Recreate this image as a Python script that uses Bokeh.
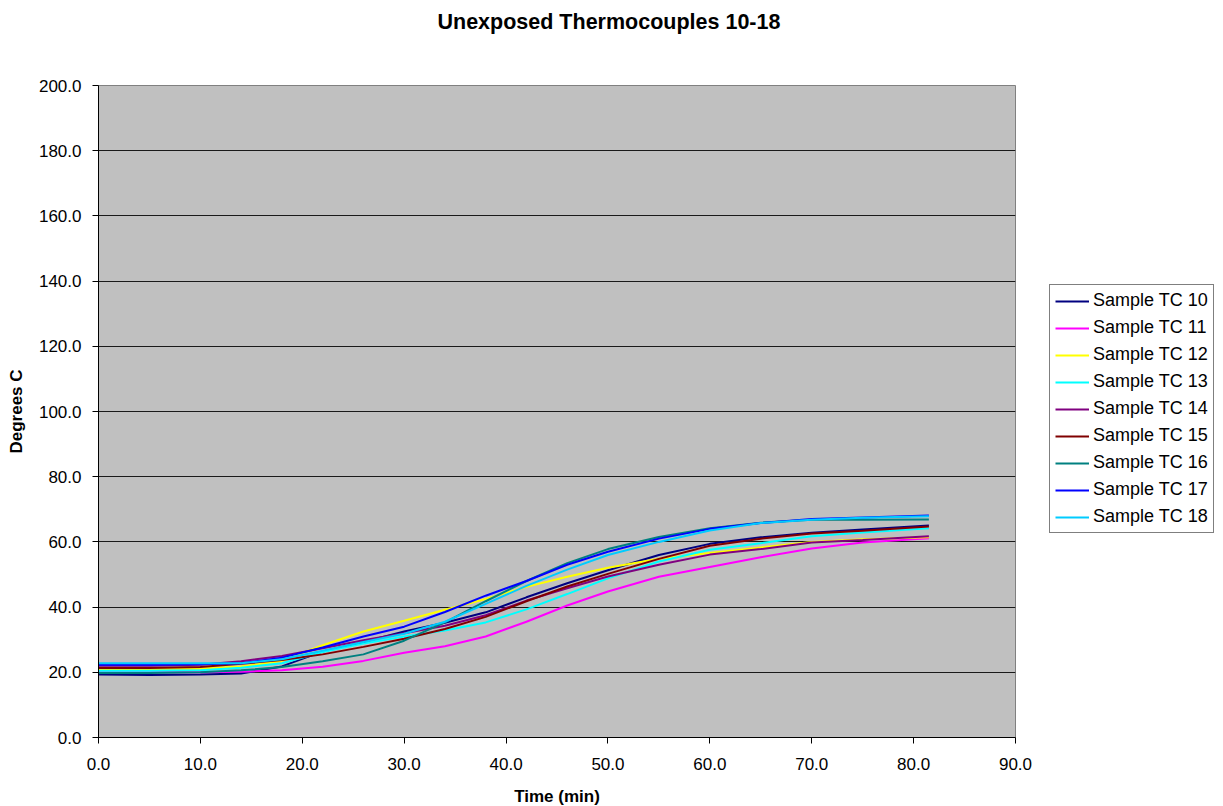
from bokeh.plotting import figure
from bokeh.models import Legend, LegendItem, FixedTicker, NumeralTickFormatter, Range1d, ColumnDataSource, Title
from bokeh.embed import file_html
from bokeh.resources import INLINE

# ---- data ----
time_min = [0, 5, 10, 14, 18, 22, 26, 30, 34, 38, 42, 46, 50, 55, 60, 65, 70, 75, 81.5]
tc10 = [19.3, 19.2, 19.3, 19.6, 21.8, 26.4, 29.3, 32.5, 35.2, 38.4, 43.0, 47.3, 51.3, 56.0, 59.4, 61.4, 62.8, 63.8, 65.0]
tc11 = [20.0, 20.0, 20.0, 20.2, 20.6, 21.7, 23.5, 26.0, 28.0, 31.0, 35.5, 40.5, 44.8, 49.3, 52.3, 55.3, 58.0, 59.8, 61.1]
tc12 = [21.0, 21.0, 21.2, 21.8, 23.5, 28.3, 32.5, 35.8, 39.2, 42.5, 46.2, 49.3, 52.1, 54.8, 56.6, 58.3, 60.0, 60.8, 61.4]
tc13 = [20.5, 20.5, 20.6, 21.4, 22.8, 26.2, 28.8, 31.0, 32.8, 35.3, 39.3, 44.0, 48.8, 54.0, 57.6, 59.6, 61.7, 62.9, 64.2]
tc14 = [22.0, 22.0, 22.3, 23.4, 25.0, 27.4, 29.8, 32.0, 34.3, 37.5, 42.0, 45.8, 49.4, 53.0, 56.1, 57.8, 59.8, 60.6, 61.7]
tc15 = [21.3, 21.3, 21.6, 22.6, 23.8, 25.5, 27.8, 30.3, 33.3, 37.0, 41.8, 46.3, 50.2, 54.8, 58.8, 61.0, 62.6, 63.4, 64.7]
tc16 = [19.8, 19.8, 20.0, 20.6, 21.6, 23.4, 25.5, 29.7, 35.3, 41.8, 48.0, 53.5, 57.8, 61.5, 64.2, 65.9, 66.8, 66.8, 66.9]
tc17 = [22.3, 22.3, 22.5, 22.8, 24.5, 27.6, 31.0, 34.0, 38.5, 43.5, 48.0, 53.0, 57.0, 61.0, 64.0, 65.8, 67.0, 67.5, 68.1]
tc18 = [22.8, 22.8, 22.8, 22.8, 24.0, 26.6, 29.3, 31.8, 35.5, 41.0, 46.5, 51.5, 56.0, 60.0, 63.5, 65.8, 66.8, 67.4, 67.9]

series_names = ["Sample TC 10", "Sample TC 11", "Sample TC 12", "Sample TC 13", "Sample TC 14",
                "Sample TC 15", "Sample TC 16", "Sample TC 17", "Sample TC 18"]
series_values = [tc10, tc11, tc12, tc13, tc14, tc15, tc16, tc17, tc18]
series_colors = ["#000080", "#FF00FF", "#FFFF00", "#00FFFF", "#800080",
                 "#800000", "#008080", "#0000FF", "#00CCFF"]

x_ticks = [0, 10, 20, 30, 40, 50, 60, 70, 80, 90]
y_ticks = [0, 20, 40, 60, 80, 100, 120, 140, 160, 180, 200]

FONT = "Liberation Sans"

p = figure(frame_width=917, frame_height=652,
           x_range=Range1d(0, 90), y_range=Range1d(0, 200),
           output_backend="svg", toolbar_location=None, title=None,
           min_border_left=98, min_border_top=85, min_border_right=206, min_border_bottom=40,
           background_fill_color="#C0C0C0", border_fill_color="white",
           outline_line_color="#808080")

# spacer (nearest the frame), then the real title above it
spacer = Title(text=" ", text_font=FONT, text_font_size="21.5px", standoff=26)
p.add_layout(spacer, "above")
main_title = Title(text="Unexposed Thermocouples 10-18", text_font=FONT, text_font_style="bold",
                   text_font_size="21.5px", text_color="black", align="left", offset=339, standoff=0)
p.add_layout(main_title, "above")

for ax in (p.xaxis, p.yaxis):
    ax.axis_line_color = "black"
    ax.major_tick_line_color = "black"
    ax.minor_tick_line_color = None
    ax.major_tick_in = 0
    ax.major_tick_out = 6
    ax.major_label_text_font = FONT
    ax.major_label_text_font_size = "17px"
    ax.major_label_text_color = "black"
    ax.axis_label_text_font = FONT
    ax.axis_label_text_font_style = "bold"
    ax.axis_label_text_font_size = "17px"
    ax.axis_label_text_color = "black"
    ax.formatter = NumeralTickFormatter(format="0.0")

p.xaxis.ticker = FixedTicker(ticks=x_ticks)
p.yaxis.ticker = FixedTicker(ticks=y_ticks)
p.xaxis.axis_label = "Time (min)"
p.yaxis.axis_label = "Degrees C"
p.xaxis.major_label_standoff = 14
p.yaxis.major_label_standoff = 11
p.xaxis.axis_label_standoff = 14
p.yaxis.axis_label_standoff = 10

p.xgrid.visible = False
p.ygrid.ticker = FixedTicker(ticks=y_ticks)
p.ygrid.grid_line_color = "#1a1a1a"
p.ygrid.grid_line_width = 1

items = []
for name, vals, col in zip(series_names, series_values, series_colors):
    src = ColumnDataSource(dict(x=time_min, y=vals))
    r = p.line("x", "y", source=src, line_color=col, line_width=2)
    items.append(LegendItem(label=name, renderers=[r]))

legend = Legend(items=items, location=(34, 204),
                border_line_color="black", border_line_width=1,
                background_fill_color="white", background_fill_alpha=1,
                label_text_font=FONT, label_text_font_size="18px", label_text_color="black",
                glyph_width=34, glyph_height=20, label_height=20, label_standoff=4,
                spacing=6, padding=5, margin=0)
p.add_layout(legend, "right")

open("out.html", "w").write(file_html(p, INLINE))
